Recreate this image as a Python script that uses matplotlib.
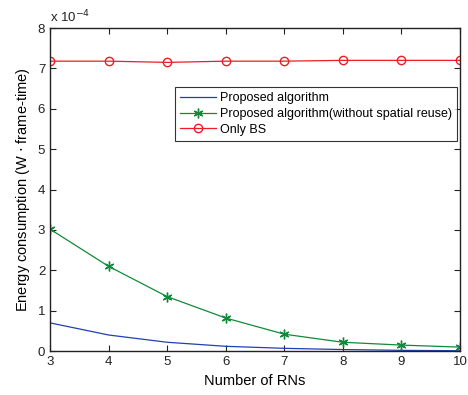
import numpy as np
import matplotlib
matplotlib.use("Agg")
import matplotlib.pyplot as plt

# ======= Data (energy in units of 1e-4 W*frame-time) =======
num_rns = [3, 4, 5, 6, 7, 8, 9, 10]
proposed = [0.70, 0.40, 0.22, 0.12, 0.07, 0.04, 0.02, 0.01]
proposed_no_reuse = [3.02, 2.10, 1.35, 0.82, 0.42, 0.22, 0.15, 0.10]
only_bs = [7.18, 7.18, 7.15, 7.18, 7.18, 7.20, 7.20, 7.20]

plt.rcParams['font.family'] = ['Liberation Sans', 'DejaVu Sans']

fig = plt.figure(figsize=(4.68, 3.95), dpi=100)
ax = fig.add_axes([0.107, 0.111, 0.876, 0.818])

ax.plot(num_rns, proposed, color='#2040b0', lw=0.9, label='Proposed algorithm')
ax.plot(num_rns, proposed_no_reuse, color='#108a3a', lw=0.9, marker=(6, 2, 0),
        markersize=7, markeredgewidth=1.0,
        label='Proposed algorithm(without spatial reuse)')
ax.plot(num_rns, only_bs, color='#ee1c25', lw=0.9, marker='o', markersize=6,
        markerfacecolor='none', label='Only BS')

ax.set_xlim(3, 10)
ax.set_ylim(0, 8)
ax.set_xticks(range(3, 11))
ax.set_yticks(range(0, 9))
ax.tick_params(direction='in', top=True, right=True, labelsize=9.5, length=4,
               colors='#222222')
for s in ax.spines.values():
    s.set_color('#222222')
    s.set_linewidth(1.0)

ax.text(0.0, 1.01, r'x 10$^{-4}$', transform=ax.transAxes, fontsize=9.5,
        ha='left', va='bottom', color='#222222')
ax.set_xlabel('Number of RNs', fontsize=10.5)
ax.set_ylabel('Energy consumption (W $\\cdot$ frame-time)', fontsize=10.5)

leg = ax.legend(loc='upper right', bbox_to_anchor=(0.993, 0.817), fontsize=9,
                frameon=True, fancybox=False, edgecolor='black',
                borderpad=0.4, labelspacing=0.3, handlelength=2.9,
                handletextpad=0.3, borderaxespad=0)
leg.get_frame().set_linewidth(0.8)

fig.savefig('out.png', dpi=100)
